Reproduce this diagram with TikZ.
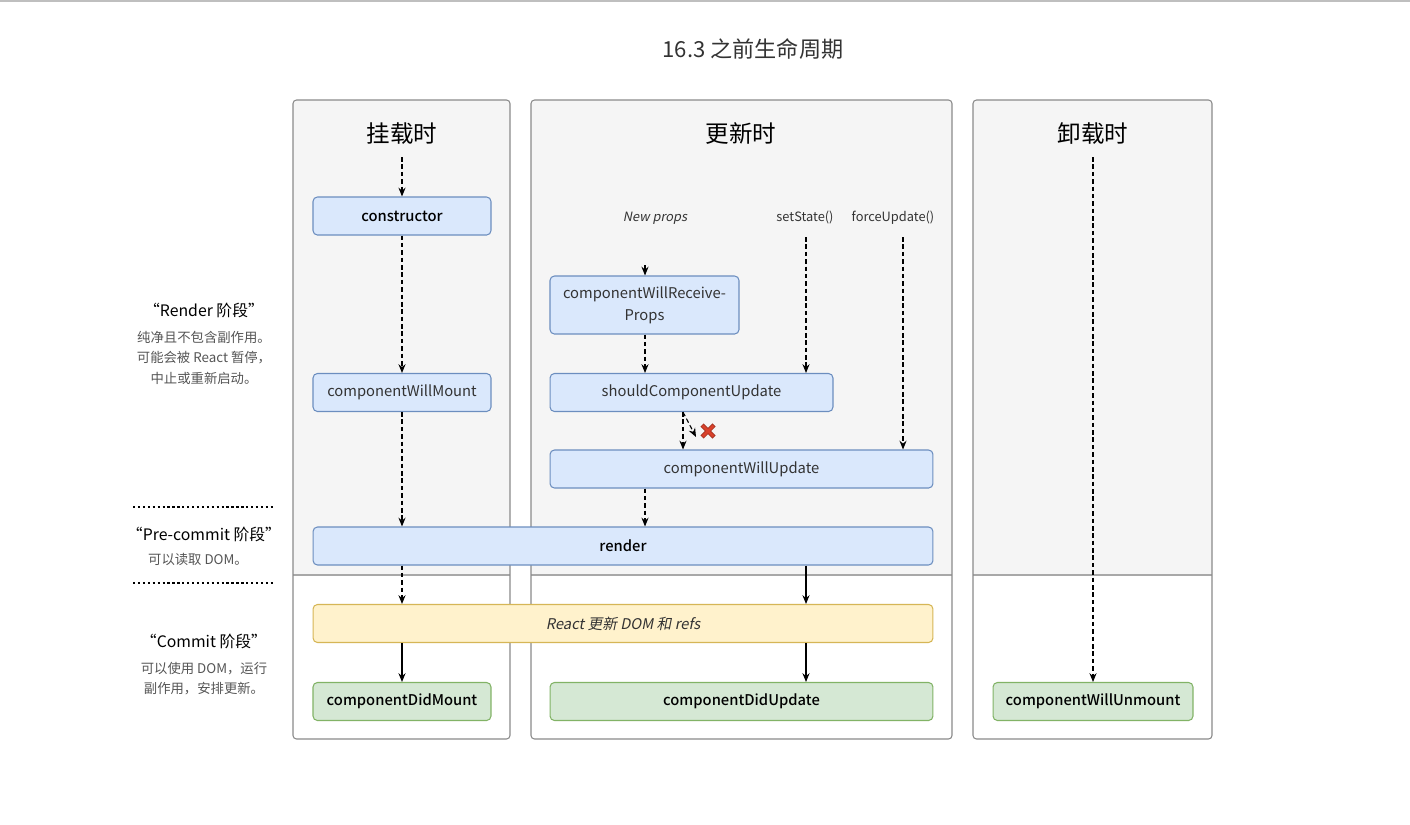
\documentclass[tikz,border=0pt]{standalone}
\usepackage{fontspec}
\setmainfont{Noto Sans CJK SC}[BoldFont={Noto Sans CJK SC Medium}, ItalicFont=Noto Sans CJK SC, ItalicFeatures={FakeSlant=0.2}]
\usepackage{xcolor}
\usetikzlibrary{arrows.meta}
\definecolor{panelbg}{HTML}{F5F5F5}
\definecolor{panelline}{HTML}{8A8A8A}
\definecolor{divider}{HTML}{A8A8A8}
\definecolor{bluefill}{HTML}{DAE8FC}
\definecolor{blueline}{HTML}{6C8EBF}
\definecolor{yellowfill}{HTML}{FFF2CC}
\definecolor{yellowline}{HTML}{D6B656}
\definecolor{greenfill}{HTML}{D5E8D4}
\definecolor{greenline}{HTML}{82B366}
\definecolor{textgray}{HTML}{333333}
\definecolor{subgray}{HTML}{555555}
\definecolor{crossred}{HTML}{D9412B}
\tikzset{
	hook/.style={
			rectangle, rounded corners=2.5pt, line width=0.6pt,
			minimum height=0.76cm, inner sep=2pt,
			font=\fontsize{8.4}{10}\selectfont, text=textgray
		},
	bluebox/.style={hook, fill=bluefill, draw=blueline},
	yellowbox/.style={hook, fill=yellowfill, draw=yellowline},
	greenbox/.style={hook, fill=greenfill, draw=greenline},
	strong/.style={font=\fontsize{8.4}{10}\selectfont\bfseries, text=black},
	heading/.style={font=\fontsize{13.4}{15}\selectfont, text=black},
	trigger/.style={font=\fontsize{7.3}{9}\selectfont, text=textgray},
	phasename/.style={font=\fontsize{9}{11}\selectfont, text=black},
	phasenote/.style={font=\fontsize{7.6}{11.6}\selectfont, text=subgray, align=center},
	flow/.style={-{Stealth[length=5pt, width=4pt]}, line width=0.6pt},
	maybe/.style={flow, dash pattern=on 2.6pt off 1.6pt}
}
\newcommand{\lifepanel}[2]{
	\fill[panelbg, rounded corners=2pt]	(#1, 100) rectangle (#2, 585);
	\fill[white]	(#1, 575) rectangle (#2, 739);
	\draw[divider, line width=0.6pt]	(#1, 575) to (#2, 575);
	\draw[panelline, line width=0.6pt, rounded corners=2pt]	(#1, 100) rectangle (#2, 739);
}

\begin{document}
\begin{tikzpicture}[x=0.02cm, y=-0.02cm]
		\useasboundingbox (0, 0) rectangle (1410, 825);
		\draw[black!25, line width=1pt]	(0, 1) to (1410, 1);

		\node[font=\fontsize{12.6}{14}\selectfont, text=textgray] (title) at (753, 49) {16.3 之前生命周期};

		\lifepanel{293}{510}
		\lifepanel{531}{952}
		\lifepanel{973}{1212}

		\node[heading] (mount) at (402, 134) {挂载时};
		\node[heading] (update) at (741, 134) {更新时};
		\node[heading] (unmount) at (1093, 134) {卸载时};

		\coordinate (mountstart) at (402, 157);
		\coordinate (unmountstart) at (1093, 157);

		\node[bluebox, minimum width=3.56cm, strong] (ctor) at (402, 216) {constructor};
		\node[bluebox, minimum width=3.56cm] (cwm) at (402, 392.5) {componentWillMount};

		\node[trigger] (newprops) at (655, 218) {\itshape New props};
		\node[trigger] (setstate) at (805, 218) {setState()};
		\node[trigger] (forceupdate) at (893, 218) {forceUpdate()};
		\coordinate (propsstart) at (645, 265);
		\coordinate (statestart) at (806, 237);
		\coordinate (forcestart) at (903, 237);

		\node[bluebox, minimum width=3.78cm, minimum height=1.16cm, align=center, font=\fontsize{8.4}{12.4}\selectfont] (cwrp) at (644.5, 305) {componentWillReceive-\\Props};
		\node[bluebox, minimum width=5.66cm] (scu) at (691.5, 392.5) {shouldComponentUpdate};
		\node[bluebox, minimum width=7.66cm] (cwu) at (741.5, 469) {componentWillUpdate};

		\node[bluebox, minimum width=12.4cm, strong] (render) at (623, 546) {render};
		\node[yellowbox, minimum width=12.4cm] (dom) at (623, 623.5) {\itshape React 更新 DOM 和 refs};

		\node[greenbox, minimum width=3.56cm, strong] (cdm) at (402, 701.5) {componentDidMount};
		\node[greenbox, minimum width=7.66cm, strong] (cdu) at (741.5, 701.5) {componentDidUpdate};
		\node[greenbox, minimum width=4cm, strong] (cwun) at (1093, 701.5) {componentWillUnmount};

		\coordinate (skip) at (683, 430);
		\coordinate (cross) at (708, 431);

		\draw[maybe]	(mountstart) to (ctor.north);
		\draw[maybe]	(ctor.south) to (cwm.north);
		\draw[maybe]	(cwm.south) to (cwm.south |- render.north);
		\draw[maybe]	(cwm.south |- render.south) to (cwm.south |- dom.north);
		\draw[flow]	(cwm.south |- dom.south) to (cdm.north);

		\draw[maybe]	(propsstart) to (propsstart |- cwrp.north);
		\draw[maybe]	(propsstart |- cwrp.south) to (propsstart |- scu.north);
		\draw[maybe]	(statestart) to (statestart |- scu.north);
		\draw[maybe]	(forcestart) to (forcestart |- cwu.north);
		\draw[maybe]	(scu.south -| skip) to (cwu.north -| skip);
		\draw[maybe]	(scu.south -| skip) to ([shift={(-12, 6)}]cross);
		\draw[crossred!75!black, line width=2.6pt]	([shift={(-6, -6)}]cross) to ([shift={(6, 6)}]cross) ([shift={(-6, 6)}]cross) to ([shift={(6, -6)}]cross);
		\draw[crossred, line width=1.6pt]	([shift={(-5.4, -5.4)}]cross) to ([shift={(5.4, 5.4)}]cross) ([shift={(-5.4, 5.4)}]cross) to ([shift={(5.4, -5.4)}]cross);
		\draw[maybe]	(propsstart |- cwu.south) to (propsstart |- render.north);
		\draw[flow]	(statestart |- render.south) to (statestart |- dom.north);
		\draw[flow]	(statestart |- dom.south) to (statestart |- cdu.north);

		\draw[maybe]	(unmountstart) to (cwun.north);

		\node[phasename] (renderphase) at (204, 310) {“Render 阶段”};
		\node[phasenote, anchor=north] (rendernote) at (204, 325) {纯净且不包含副作用。\\可能会被 React 暂停，\\中止或重新启动。};

		\coordinate (sepa) at (133, 507);
		\coordinate (sepb) at (133, 583);
		\draw[black, line width=1.3pt, dash pattern=on 1.3pt off 1.5pt]	(sepa) to ++(140, 0);
		\draw[black, line width=1.3pt, dash pattern=on 1.3pt off 1.5pt]	(sepb) to ++(140, 0);

		\node[phasename] (precommit) at (204, 534) {“Pre-commit 阶段”};
		\node[phasenote] (precommitnote) at (198, 559) {可以读取 DOM。};

		\node[phasename] (commit) at (204, 641) {“Commit 阶段”};
		\node[phasenote, anchor=north] (commitnote) at (204, 656) {可以使用 DOM，运行\\副作用，安排更新。};
	\end{tikzpicture}
\end{document}
